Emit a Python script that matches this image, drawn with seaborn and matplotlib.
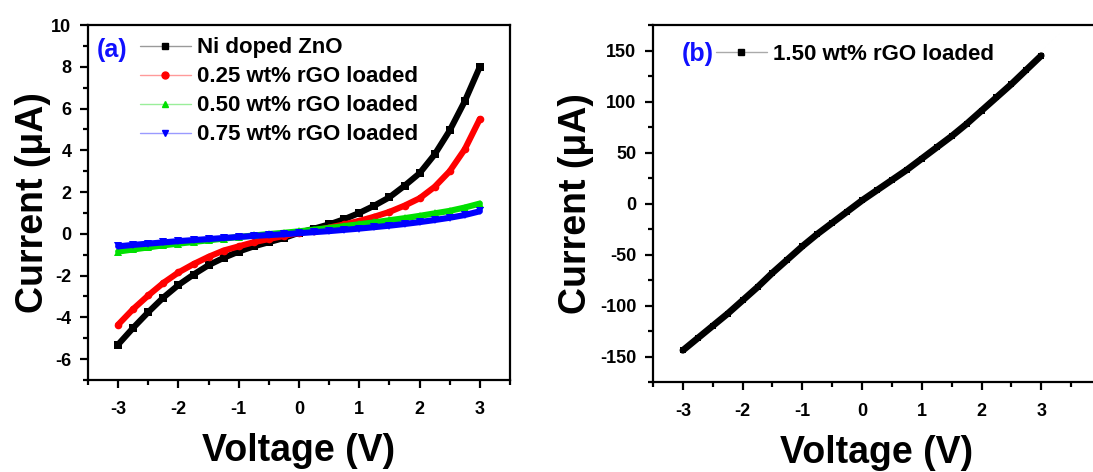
import numpy as np
import pandas as pd
import matplotlib
matplotlib.use("Agg")
import matplotlib.pyplot as plt
from matplotlib.lines import Line2D
from matplotlib.ticker import MultipleLocator
import seaborn as sns

# ---- data ----
voltage = [-3.0, -2.75, -2.5, -2.25, -2.0, -1.75, -1.5, -1.25, -1.0, -0.75, -0.5, -0.25,
           0.0, 0.25, 0.5, 0.75, 1.0, 1.25, 1.5, 1.75, 2.0, 2.25, 2.5, 2.75, 3.0]

ni_zno = [-5.3, -4.5, -3.75, -3.05, -2.45, -1.95, -1.5, -1.15, -0.85, -0.6, -0.4, -0.2,
          0.05, 0.25, 0.45, 0.7, 1.0, 1.35, 1.75, 2.3, 2.9, 3.8, 4.95, 6.35, 8.0]
rgo_025 = [-4.35, -3.6, -2.95, -2.35, -1.85, -1.45, -1.1, -0.8, -0.6, -0.4, -0.25, -0.1,
           0.05, 0.15, 0.3, 0.45, 0.62, 0.82, 1.05, 1.35, 1.7, 2.25, 3.0, 4.05, 5.5]
rgo_050 = [-0.85, -0.75, -0.65, -0.55, -0.47, -0.39, -0.31, -0.23, -0.15, -0.08, -0.01, 0.05,
           0.12, 0.2, 0.28, 0.37, 0.46, 0.55, 0.65, 0.75, 0.86, 0.98, 1.1, 1.26, 1.45]
rgo_075 = [-0.6, -0.53, -0.47, -0.41, -0.35, -0.3, -0.25, -0.2, -0.15, -0.1, -0.06, -0.02,
           0.03, 0.08, 0.13, 0.19, 0.25, 0.32, 0.39, 0.47, 0.56, 0.66, 0.77, 0.9, 1.08]
rgo_150 = [-144, -132, -120, -108, -95, -82, -68, -55, -42, -30, -19, -8,
           3, 13, 23, 33, 44, 55, 66, 78, 91, 104, 117, 131, 145]

labels_a = ["Ni doped ZnO", "0.25 wt% rGO loaded", "0.50 wt% rGO loaded", "0.75 wt% rGO loaded"]
label_b = "1.50 wt% rGO loaded"

colors_a = ["#000000", "#ff0000", "#00e000", "#0000ff"]
light_a = ["#9a9a9a", "#ff9a9a", "#9aee9a", "#9a9aff"]
markers_a = ["s", "o", "^", "v"]

# ---- style ----
sns.set_style("ticks")
plt.rcParams["font.family"] = ["Liberation Sans", "DejaVu Sans"]
plt.rcParams["font.weight"] = "bold"
plt.rcParams["axes.labelweight"] = "bold"
plt.rcParams["axes.linewidth"] = 1.6
plt.rcParams["axes.unicode_minus"] = False
for k in ["text.color", "axes.labelcolor", "xtick.color", "ytick.color", "axes.edgecolor"]:
    plt.rcParams[k] = "black"

fig = plt.figure(figsize=(10.93, 4.72), dpi=100)
ax1 = fig.add_axes([88 / 1093, 1 - 380 / 472, (510 - 88) / 1093, (380 - 25) / 472])
ax2 = fig.add_axes([653 / 1093, 1 - 382 / 472, 448 / 1093, (382 - 25) / 472])

df_a = pd.DataFrame({"V": voltage * 4,
                     "I": ni_zno + rgo_025 + rgo_050 + rgo_075,
                     "s": sum([[l] * len(voltage) for l in labels_a], [])})

for lab, c, m in zip(labels_a, colors_a, markers_a):
    sub = df_a[df_a["s"] == lab]
    sns.lineplot(data=sub, x="V", y="I", ax=ax1, color=c, linewidth=4.4,
                 marker=m, markersize=5.5, markeredgewidth=0, legend=False,
                 estimator=None, sort=False)

df_b = pd.DataFrame({"V": voltage, "I": rgo_150})
sns.lineplot(data=df_b, x="V", y="I", ax=ax2, color="black", linewidth=4.8,
             marker="s", markersize=5, markeredgewidth=0, legend=False,
             estimator=None, sort=False)

def style_axes(ax, xlim, ylim, ymaj, ymin):
    ax.set_xlim(*xlim)
    ax.set_ylim(*ylim)
    ax.xaxis.set_major_locator(MultipleLocator(1))
    ax.xaxis.set_minor_locator(MultipleLocator(0.5))
    ax.yaxis.set_major_locator(MultipleLocator(ymaj))
    ax.yaxis.set_minor_locator(MultipleLocator(ymin))
    ax.tick_params(which="major", direction="out", length=6, width=1.6, labelsize=13, pad=6)
    ax.tick_params(axis="x", which="major", pad=9)
    ax.tick_params(which="minor", direction="out", length=3.5, width=1.6)
    for sp in ax.spines.values():
        sp.set_visible(True)
        sp.set_linewidth(1.6)
    ax.set_xlabel("Voltage (V)", fontsize=27, fontweight="bold", labelpad=11)

style_axes(ax1, (-3.5, 3.5), (-7, 10), 2, 1)
ax1.set_xticks([-3, -2, -1, 0, 1, 2, 3])
ax1.set_ylabel("Current (\u03bcA)", fontsize=27, fontweight="bold", labelpad=0)

style_axes(ax2, (-3.5, 4.0), (-175, 175), 50, 25)
ax2.set_xticks([-3, -2, -1, 0, 1, 2, 3])
ax2.set_ylabel("Current (\u03bcA)", fontsize=27, fontweight="bold", labelpad=4)

for ax in (ax1, ax2):
    for lab in ax.get_xticklabels() + ax.get_yticklabels():
        lab.set_fontweight("bold")

# legends
handles_a = [Line2D([], [], color=lc, lw=1.0, marker=m, markersize=5,
                    markerfacecolor=c, markeredgecolor=c)
             for c, lc, m in zip(colors_a, light_a, markers_a)]
leg1 = ax1.legend(handles_a, labels_a, loc="upper left", bbox_to_anchor=(0.101, 0.99),
                  frameon=False, fontsize=16, handlelength=2.3, handletextpad=0.3,
                  labelspacing=0.36, borderaxespad=0)
for t in leg1.get_texts():
    t.set_fontweight("bold")
ax1.text(0.021, 0.93, "(a)", transform=ax1.transAxes, color="#1010ff",
         fontsize=18, fontweight="bold", va="center", ha="left")

handle_b = [Line2D([], [], color="#aaaaaa", lw=1.0, marker="s", markersize=5,
                   markerfacecolor="black", markeredgecolor="black")]
leg2 = ax2.legend(handle_b, [label_b], loc="upper left", bbox_to_anchor=(0.12, 0.973),
                  frameon=False, fontsize=16, handlelength=2.3, handletextpad=0.3,
                  borderaxespad=0)
for t in leg2.get_texts():
    t.set_fontweight("bold")
ax2.text(0.065, 0.92, "(b)", transform=ax2.transAxes, color="#1010ff",
         fontsize=18, fontweight="bold", va="center", ha="left")

fig.savefig("out.png", dpi=100)
